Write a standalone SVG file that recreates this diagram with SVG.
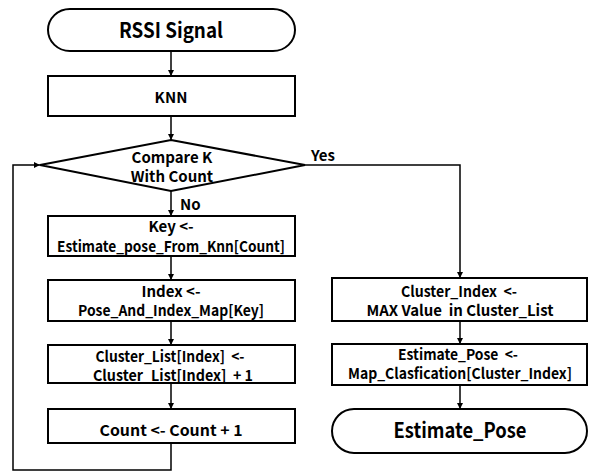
<svg xmlns="http://www.w3.org/2000/svg" width="591" height="472" viewBox="0 0 591 472">
<defs>
<marker id="ah" viewBox="0 0 10 10" refX="10" refY="5" markerWidth="6" markerHeight="6" markerUnits="userSpaceOnUse" orient="auto">
<path d="M0,0 L10,5 L0,10 z" fill="#000"/>
</marker>
<style>
.box{fill:#fff;stroke:#000;stroke-width:2}
.t{font-family:"Noto Sans CJK KR","Liberation Sans",sans-serif;font-weight:bold;font-size:15px;text-anchor:middle;fill:#000;white-space:pre}
.big{font-size:21px}
.lbl{text-anchor:start}
.c{fill:none;stroke:#000;stroke-width:1.5}
</style>
</defs>
<rect width="591" height="472" fill="#fff"/>
<g id="connectors">
<path class="c" d="M171,51 V76" marker-end="url(#ah)"/>
<path class="c" d="M171,116 V140" marker-end="url(#ah)"/>
<path class="c" d="M171,191 V216" marker-end="url(#ah)"/>
<path class="c" d="M171,256 V280" marker-end="url(#ah)"/>
<path class="c" d="M171,321 V345" marker-end="url(#ah)"/>
<path class="c" d="M171,383 V409" marker-end="url(#ah)"/>
<path class="c" d="M171,443 V470 H13 V165 H40" marker-end="url(#ah)"/>
<path class="c" d="M305,165 H460 V278" marker-end="url(#ah)"/>
<path class="c" d="M460,321 V344" marker-end="url(#ah)"/>
<path class="c" d="M460,385 V409" marker-end="url(#ah)"/>
<text class="t lbl" x="311" y="161">Yes</text>
<text class="t lbl" x="180" y="210">No</text>
</g>
<g id="start">
<path class="box" d="M70,9 H273 A22,21 0 0 1 273,51 H70 A22,21 0 0 1 70,9 Z"/>
<text class="t big" x="171" y="38" textLength="104" lengthAdjust="spacingAndGlyphs">RSSI Signal</text>
</g>
<g id="knn">
<rect class="box" x="48" y="76" width="247" height="40"/>
<text class="t" x="171" y="103">KNN</text>
</g>
<g id="compare">
<path class="box" d="M171,140 L305,165 L171,191 L40,165 Z"/>
<text class="t" x="172" y="163">Compare K</text>
<text class="t" x="172" y="182">With Count</text>
</g>
<g id="key">
<rect class="box" x="48" y="216" width="247" height="40"/>
<text class="t" x="171" y="232">Key &lt;-</text>
<text class="t" x="171" y="252" textLength="228" lengthAdjust="spacingAndGlyphs">Estimate_pose_From_Knn[Count]</text>
</g>
<g id="index">
<rect class="box" x="48" y="280" width="247" height="41"/>
<text class="t" x="171" y="297">Index &lt;-</text>
<text class="t" x="171" y="316" textLength="186" lengthAdjust="spacingAndGlyphs">Pose_And_Index_Map[Key]</text>
</g>
<g id="cluster">
<rect class="box" x="48" y="345" width="247" height="38"/>
<text class="t" x="170" y="362" textLength="149" lengthAdjust="spacingAndGlyphs">Cluster_List[Index]  &lt;-</text>
<text class="t" x="173" y="381" textLength="160" lengthAdjust="spacingAndGlyphs">Cluster_List[Index]  + 1</text>
</g>
<g id="count">
<rect class="box" x="48" y="409" width="247" height="34"/>
<text class="t" x="171" y="436" textLength="143" lengthAdjust="spacingAndGlyphs">Count &lt;- Count + 1</text>
</g>
<g id="clusterIndex">
<rect class="box" x="332" y="278" width="255" height="43"/>
<text class="t" x="459" y="297" textLength="116" lengthAdjust="spacingAndGlyphs">Cluster_Index  &lt;-</text>
<text class="t" x="460" y="316" textLength="187" lengthAdjust="spacingAndGlyphs">MAX Value  in Cluster_List</text>
</g>
<g id="estimate">
<rect class="box" x="332" y="344" width="255" height="41"/>
<text class="t" x="458" y="360" textLength="120" lengthAdjust="spacingAndGlyphs">Estimate_Pose  &lt;-</text>
<text class="t" x="460" y="379" textLength="224" lengthAdjust="spacingAndGlyphs">Map_Clasfication[Cluster_Index]</text>
</g>
<g id="end">
<path class="box" d="M354,409 H565 A22,22 0 0 1 565,453 H354 A22,22 0 0 1 354,409 Z"/>
<text class="t big" x="460" y="438" textLength="133" lengthAdjust="spacingAndGlyphs">Estimate_Pose</text>
</g>
</svg>
